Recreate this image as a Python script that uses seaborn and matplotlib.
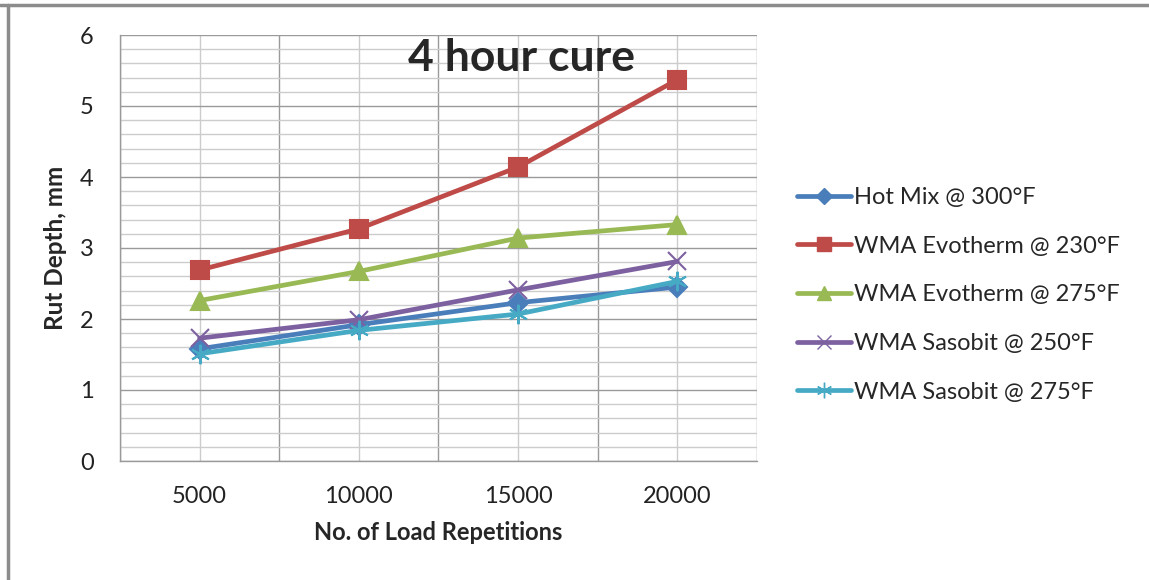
import matplotlib
matplotlib.use("Agg")
import matplotlib.pyplot as plt
import seaborn as sns
import pandas as pd
import numpy as np
from matplotlib.lines import Line2D

categories = ["5000", "10000", "15000", "20000"]
series_names = ["Hot Mix @ 300°F", "WMA Evotherm @ 230°F", "WMA Evotherm @ 275°F",
                "WMA Sasobit @ 250°F", "WMA Sasobit @ 275°F"]
hot_mix_300 = [1.58, 1.92, 2.23, 2.45]
evotherm_230 = [2.69, 3.27, 4.14, 5.37]
evotherm_275 = [2.26, 2.67, 3.14, 3.33]
sasobit_250 = [1.73, 1.99, 2.41, 2.81]
sasobit_275 = [1.51, 1.84, 2.07, 2.53]
values = [hot_mix_300, evotherm_230, evotherm_275, sasobit_250, sasobit_275]

colors = ["#4A7EBB", "#BE4B48", "#98B954", "#7D60A0", "#46AAC5"]
markers = ["D", "s", "^", "x", (6, 2, 0)]
msizes = [10, 13, 13, 13, 14]

sns.set_style("white")
plt.rcParams["font.family"] = ["Lato", "DejaVu Sans"]

fig = plt.figure(figsize=(11.49, 5.80), dpi=100)
ax = fig.add_axes([120/1149, 1-461/580, (757-120)/1149, (461-35)/580])

for name, vals, c, m, ms in zip(series_names, values, colors, markers, msizes):
    d = pd.DataFrame({"x": np.arange(len(categories)), "y": vals})
    sns.lineplot(data=d, x="x", y="y", color=c, marker=m, markersize=ms,
                 markerfacecolor=c, markeredgecolor=c, markeredgewidth=1.5,
                 linewidth=3.4, ax=ax, legend=False)

ax.set_xlim(-0.5, 3.5)
ax.set_ylim(0, 6)
ax.set_xticks(range(4))
ax.set_xticklabels(categories)
ax.set_xticks(np.arange(-0.5, 3.6, 1), minor=True)
ax.set_yticks(range(7))
ax.set_yticks(np.arange(0, 6.01, 0.2), minor=True)

ax.set_axisbelow(True)
ax.xaxis.grid(True, which="major", color="#CCCCCC", linewidth=1)
ax.xaxis.grid(True, which="minor", color="#9A9A9A", linewidth=1)
ax.yaxis.grid(True, which="major", color="#9A9A9A", linewidth=1)
ax.yaxis.grid(True, which="minor", color="#CCCCCC", linewidth=1)

ax.tick_params(axis="x", which="major", length=0, labelsize=17, pad=18, labelcolor="#222222")
ax.tick_params(axis="x", which="minor", length=8, width=1, color="#9A9A9A", direction="out")
ax.tick_params(axis="y", which="major", length=8, width=1, color="#9A9A9A", direction="out",
               labelsize=17, pad=11, labelcolor="#222222")
ax.tick_params(axis="y", which="minor", length=0)

for s in ["top", "right"]:
    ax.spines[s].set_visible(False)
for s in ["left", "bottom"]:
    ax.spines[s].set_color("#9A9A9A")
    ax.spines[s].set_linewidth(1)

ax.set_xlabel("No. of Load Repetitions", fontsize=17, fontweight="bold", labelpad=10)
ax.set_ylabel("Rut Depth, mm", fontsize=17.5, fontweight="bold")
ax.yaxis.set_label_coords((67-120)/637, 0.5)

ax.text(0.63, 0.945, "4 hour cure", transform=ax.transAxes, ha="center", va="center",
        fontsize=32, fontweight="bold")

handles = [Line2D([0], [0], color=c, lw=3.4, marker=m, markersize=ms*0.8,
                  markerfacecolor=c, markeredgecolor=c)
           for c, m, ms in zip(colors, markers, msizes)]
fig.legend(handles, series_names, loc="upper left",
           bbox_to_anchor=(797/1149, 1-187/580), frameon=False,
           fontsize=17, handlelength=2.3, handletextpad=0.1, labelspacing=1.17,
           borderaxespad=0, borderpad=0)

fig.add_artist(Line2D([0, 1], [1-5/580, 1-5/580], transform=fig.transFigure,
                      color="#8C8C8C", lw=2.5))
fig.add_artist(Line2D([8/1149, 8/1149], [0, 1-5/580], transform=fig.transFigure,
                      color="#8C8C8C", lw=2.5))

fig.savefig("out.png", dpi=100)
